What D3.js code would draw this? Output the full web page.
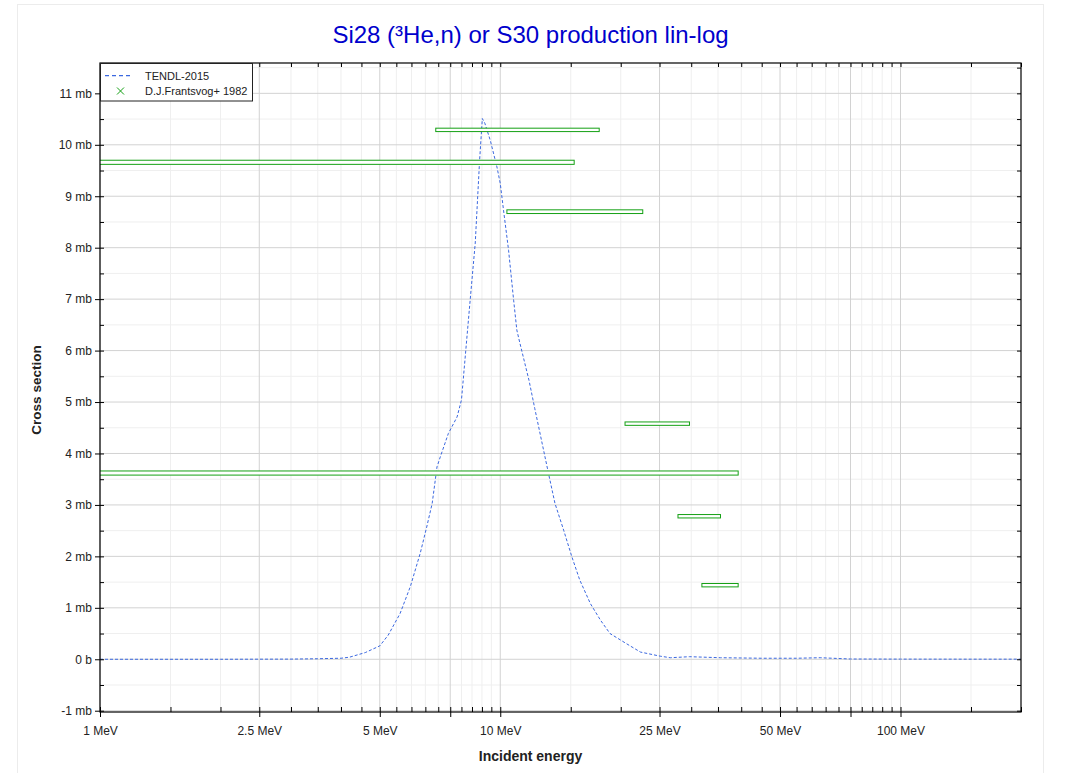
<!DOCTYPE html>
<html><head><meta charset="utf-8">
<script src="https://cdn.jsdelivr.net/npm/d3@7"></script>
<style>body{margin:0;background:#fff;} text{font-family:"Liberation Sans",Arial,sans-serif;}</style>
</head><body>
<svg id="chart" width="1069" height="773"></svg>
<script>
// ---------- data ----------
const tendlE  = [1, 2, 3, 3.5, 4, 4.2, 4.6, 5.0, 5.25, 5.62, 5.96, 6.31, 6.55, 6.76, 6.95, 7.08, 7.42, 7.8, 8.0, 8.41, 8.66, 8.88, 9.02, 9.15, 9.44, 9.81, 10.0, 10.19, 10.49, 10.8, 11.0, 11.2, 11.8, 12.2, 13.2, 13.7, 14.4, 15.1, 15.8, 16.8, 17.8, 18.8, 20.7, 22.4, 25.1, 26.6, 29.7, 35.5, 45, 55, 63, 75, 100, 150, 200];
const tendlXS = [0, 0, 0.003, 0.01, 0.02, 0.04, 0.13, 0.26, 0.47, 0.89, 1.41, 2.06, 2.57, 3.03, 3.74, 3.93, 4.39, 4.71, 5.04, 6.98, 8.09, 9.70, 10.51, 10.42, 10.09, 9.57, 9.25, 8.73, 7.95, 6.98, 6.40, 6.14, 5.42, 4.87, 3.61, 3.03, 2.51, 1.99, 1.54, 1.08, 0.76, 0.50, 0.30, 0.14, 0.06, 0.03, 0.05, 0.03, 0.02, 0.02, 0.03, 0.005, 0.003, 0.002, 0.002];

const expEmin = [6.90, 0.5, 10.39, 20.5, 0.5, 27.8, 31.9];
const expEmax = [17.67, 15.3, 22.7, 29.7, 39.3, 35.5, 39.3];
const expXS   = [10.29, 9.66, 8.70, 4.58, 3.62, 2.78, 1.44];
const expDXS  = [0.033, 0.04, 0.036, 0.033, 0.04, 0.033, 0.033];

const xMajorTicks = [1, 2.5, 5, 7.5, 10, 25, 50, 75, 100];
const xLabelTicks = [1, 2.5, 5, 10, 25, 50, 100];
const xLabels     = ["1 MeV", "2.5 MeV", "5 MeV", "10 MeV", "25 MeV", "50 MeV", "100 MeV"];
const xMinorTicks = [1.5, 2, 3, 3.5, 4, 4.5, 5.5, 6, 6.5, 7, 8, 8.5, 9, 9.5, 15, 20, 30, 35, 40, 45, 55, 60, 65, 70, 80, 85, 90, 95, 150, 200];
const yMajorTicks = [-1, 0, 1, 2, 3, 4, 5, 6, 7, 8, 9, 10, 11];
const yLabels     = ["-1 mb", "0 b", "1 mb", "2 mb", "3 mb", "4 mb", "5 mb", "6 mb", "7 mb", "8 mb", "9 mb", "10 mb", "11 mb"];
const yMinorTicks = [-0.5, 0.5, 1.5, 2.5, 3.5, 4.5, 5.5, 6.5, 7.5, 8.5, 9.5, 10.5, 11.5];

const titleText = "Si28 (³He,n) or S30 production lin-log";
const legendNames = ["TENDL-2015", "D.J.Frantsvog+ 1982"];

// ---------- layout ----------
const L = 100, R = 1021, T = 63, B = 712;
const svg = d3.select("#chart");
const x = d3.scaleLog().domain([1, 200]).range([L, R]);
const y = d3.scaleLinear().domain([-1.025, 11.59]).range([B, T]);

const blue = "#3b68e0", green = "#14a014";

// outer border
svg.append("rect").attr("x", 17.5).attr("y", 4.5).attr("width", 1026).attr("height", 800)
  .attr("fill", "none").attr("stroke", "#ececec");

// clip
svg.append("defs").append("clipPath").attr("id", "clip")
  .append("rect").attr("x", L).attr("y", T).attr("width", R - L).attr("height", B - T);

// grid
const grid = svg.append("g");
grid.selectAll(".gxm").data(xMinorTicks.filter(d => d < 200)).join("line")
  .attr("x1", d => x(d)).attr("x2", d => x(d)).attr("y1", T).attr("y2", B)
  .attr("stroke", "#efefef").attr("stroke-width", 1);
grid.selectAll(".gym").data(yMinorTicks).join("line")
  .attr("x1", L).attr("x2", R).attr("y1", d => y(d)).attr("y2", d => y(d))
  .attr("stroke", "#efefef").attr("stroke-width", 1);
grid.selectAll(".gxM").data(xMajorTicks).join("line")
  .attr("x1", d => x(d)).attr("x2", d => x(d)).attr("y1", T).attr("y2", B)
  .attr("stroke", "#d2d2d2").attr("stroke-width", 1);
grid.selectAll(".gyM").data(yMajorTicks).join("line")
  .attr("x1", L).attr("x2", R).attr("y1", d => y(d)).attr("y2", d => y(d))
  .attr("stroke", "#d2d2d2").attr("stroke-width", 1);

// data
const plot = svg.append("g").attr("clip-path", "url(#clip)");
const line = d3.line().x((d, i) => x(tendlE[i])).y(d => y(d));
plot.append("path").datum(tendlXS).attr("d", line)
  .attr("fill", "none").attr("stroke", blue).attr("stroke-width", 1)
  .attr("stroke-dasharray", "3,2");

plot.selectAll(".exp").data(expXS).join("rect")
  .attr("x", (d, i) => x(expEmin[i]))
  .attr("width", (d, i) => x(expEmax[i]) - x(expEmin[i]))
  .attr("y", (d, i) => y(d + expDXS[i]))
  .attr("height", (d, i) => y(d - expDXS[i]) - y(d + expDXS[i]))
  .attr("fill", "#fff").attr("stroke", green).attr("stroke-width", 1);

// axes
function styleAxis(g) {
  g.select(".domain").remove();
  g.selectAll(".tick line").attr("stroke", "#000");
  g.selectAll("text").attr("font-size", 12).attr("fill", "#222")
    .attr("font-family", "'Liberation Sans',Arial,sans-serif");
}
svg.append("g").attr("transform", `translate(0,${B})`)
  .call(d3.axisBottom(x).tickValues(xLabelTicks).tickFormat((d, i) => xLabels[i]).tickSize(5).tickPadding(9.5))
  .call(styleAxis);
svg.append("g").attr("transform", `translate(0,${B})`)
  .call(d3.axisTop(x).tickValues(xMajorTicks.concat(xMinorTicks)).tickFormat("").tickSize(5))
  .call(styleAxis);
svg.append("g").attr("transform", `translate(0,${B})`)
  .call(d3.axisBottom(x).tickValues([7.5, 75]).tickFormat("").tickSize(5))
  .call(styleAxis);
svg.append("g").attr("transform", `translate(0,${T})`)
  .call(d3.axisBottom(x).tickValues(xMajorTicks.concat(xMinorTicks)).tickFormat("").tickSize(4))
  .call(styleAxis);
svg.append("g").attr("transform", `translate(${L},0)`)
  .call(d3.axisLeft(y).tickValues(yMajorTicks).tickFormat((d, i) => yLabels[i]).tickSize(5).tickPadding(3))
  .call(styleAxis);
svg.append("g").attr("transform", `translate(${L},0)`)
  .call(d3.axisRight(y).tickValues(yMajorTicks.concat(yMinorTicks)).tickFormat("").tickSize(4))
  .call(styleAxis);
svg.append("g").attr("transform", `translate(${R},0)`)
  .call(d3.axisLeft(y).tickValues(yMajorTicks.concat(yMinorTicks)).tickFormat("").tickSize(4))
  .call(styleAxis);

// frame
svg.append("rect").attr("x", L).attr("y", T).attr("width", R - L).attr("height", B - T)
  .attr("fill", "none").attr("stroke", "#000").attr("stroke-width", 1.2);

// titles
svg.append("text").attr("x", 530.5).attr("y", 43).attr("text-anchor", "middle")
  .attr("font-size", 24).attr("fill", "#0000cc").text(titleText);
svg.append("text").attr("x", 530.5).attr("y", 761).attr("text-anchor", "middle")
  .attr("font-size", 14).attr("font-weight", "bold").attr("fill", "#222").text("Incident energy");
svg.append("text").attr("transform", "translate(40.5,390) rotate(-90)").attr("text-anchor", "middle")
  .attr("font-size", 13.5).attr("font-weight", "bold").attr("fill", "#222").text("Cross section");

// legend
const lg = svg.append("g");
lg.append("rect").attr("x", 100.5).attr("y", 63.5).attr("width", 152).attr("height", 37.5)
  .attr("fill", "#fff").attr("stroke", "#222").attr("stroke-width", 1);
lg.append("line").attr("x1", 105).attr("x2", 132).attr("y1", 75.7).attr("y2", 75.7)
  .attr("stroke", blue).attr("stroke-width", 1.2).attr("stroke-dasharray", "4,3");
lg.append("path").attr("d", "M117,87.5L124,94.5M124,87.5L117,94.5")
  .attr("stroke", green).attr("stroke-width", 1);
lg.selectAll(".lt").data(legendNames).join("text")
  .attr("x", 145).attr("y", (d, i) => 79.5 + i * 15.2)
  .attr("font-size", 11).attr("fill", "#222").text(d => d);
</script>
</body></html>
